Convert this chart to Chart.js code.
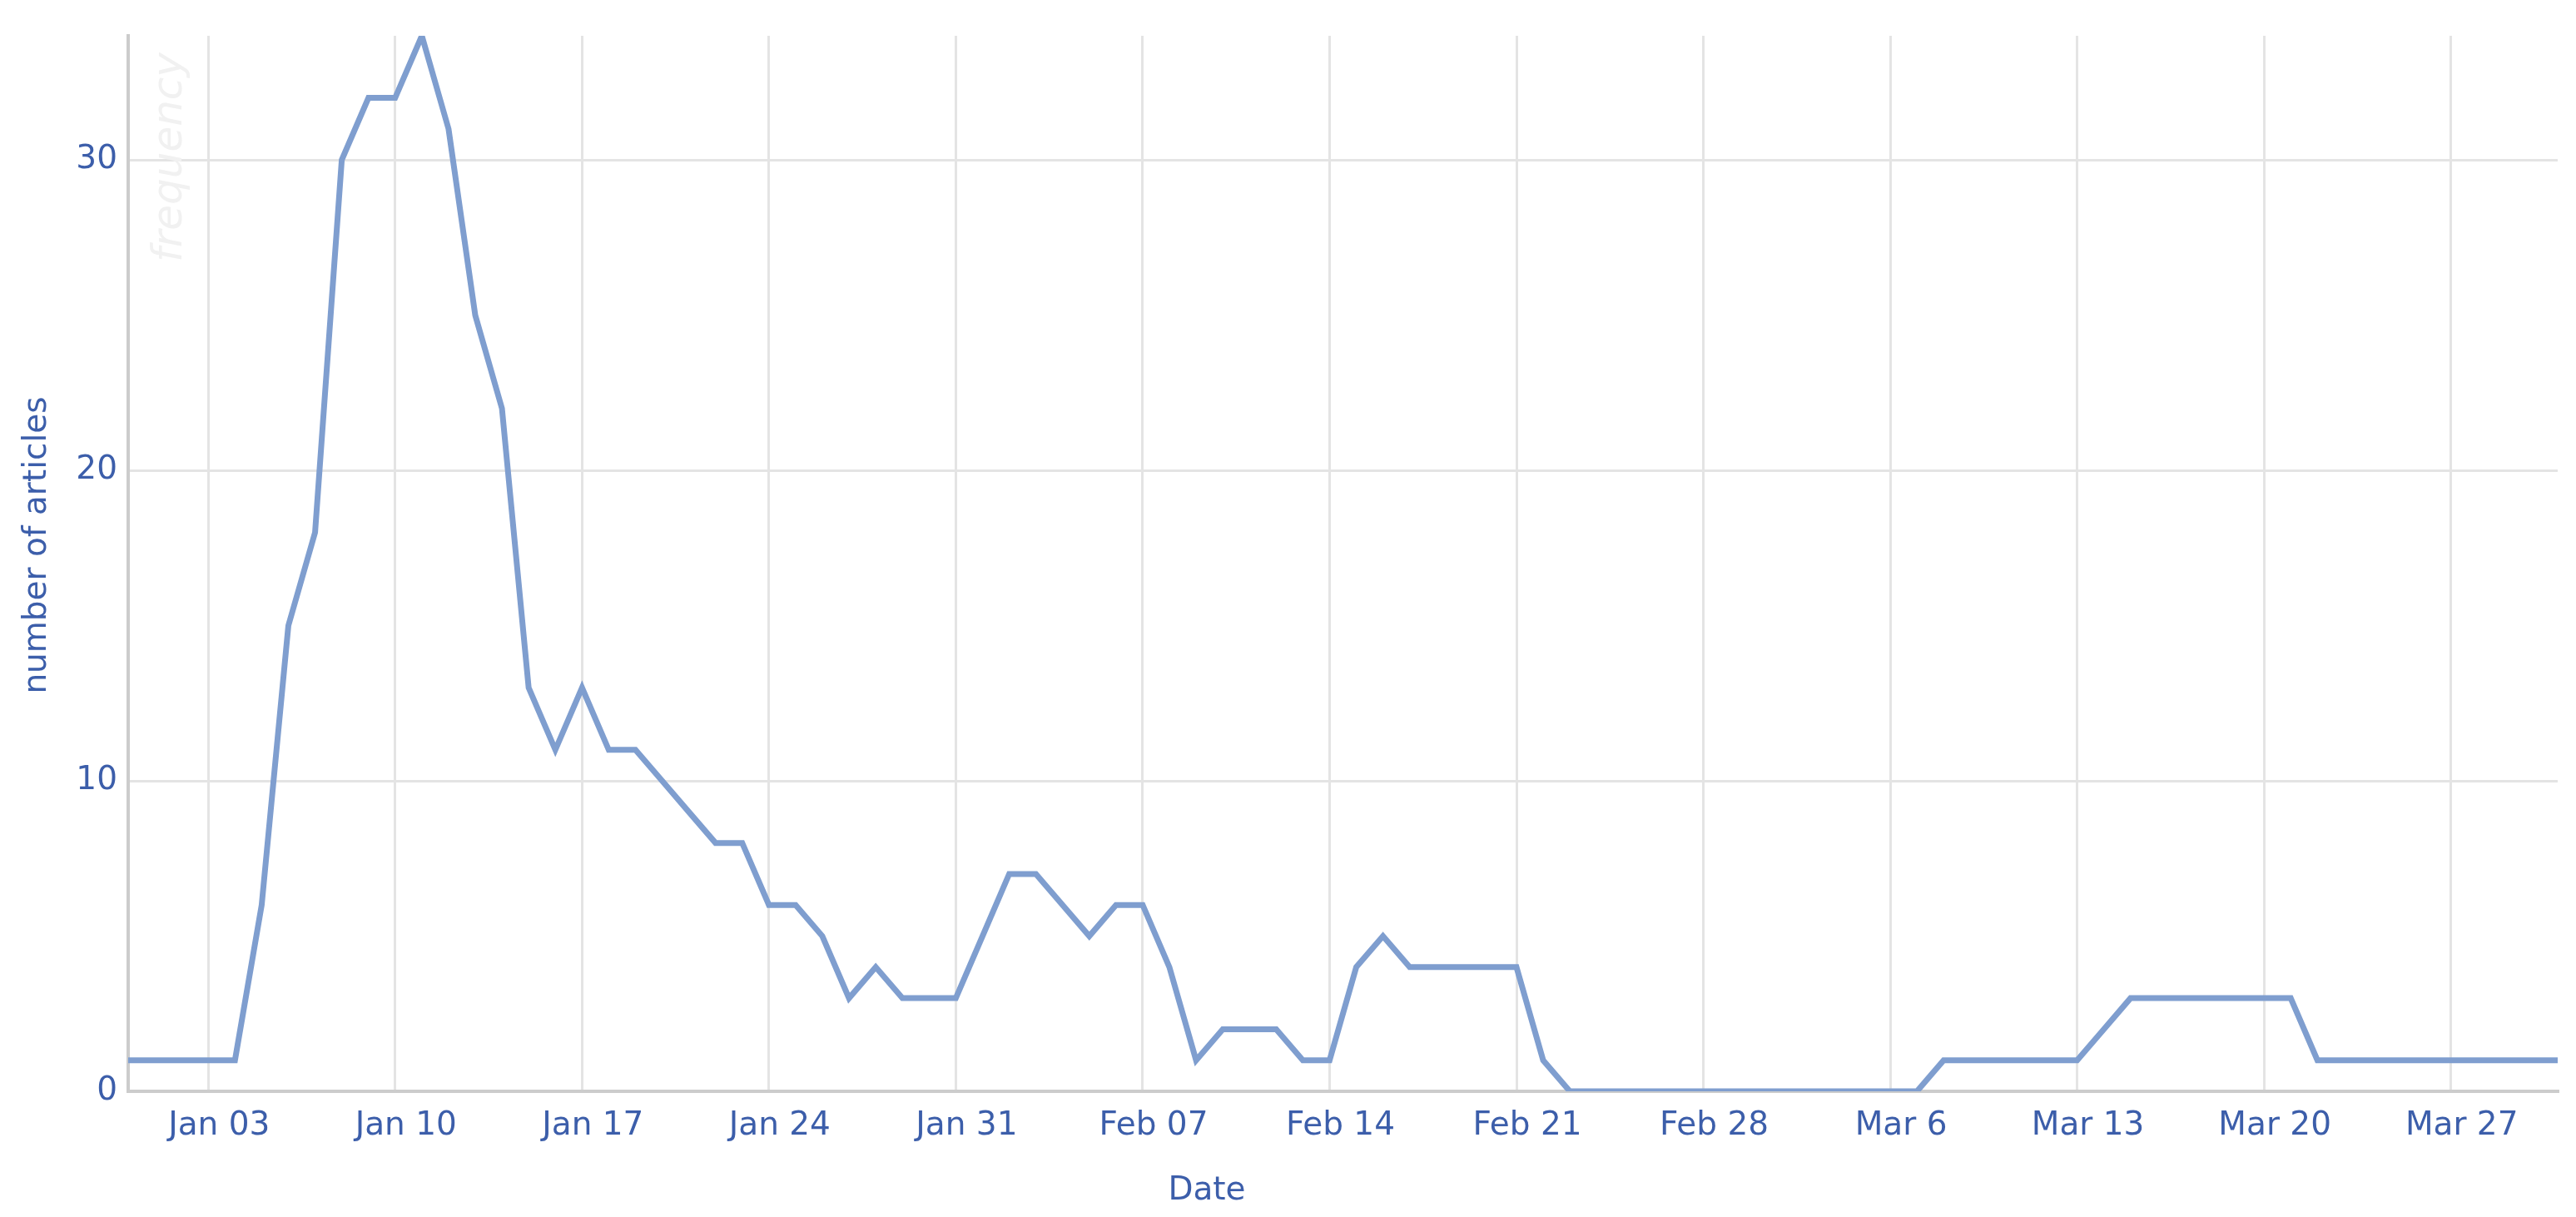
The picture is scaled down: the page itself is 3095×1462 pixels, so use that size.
<!DOCTYPE html>
<html lang="en">
<head>
    <meta charset="UTF-8">
    <title>Articles per day</title>
    <script src="https://cdn.jsdelivr.net/npm/chart.js"></script>
    <style>
        html, body {
            margin: 0;
            padding: 0;
            background-color: #ffffff;
        }

        .chart-box {
            position: relative;
            width: 3095px;
            height: 1462px;
        }
    </style>
</head>
<body>
    <div class="chart-box">
        <canvas id="articlesChart"></canvas>
    </div>

    <script>
        // number of articles per day, first day is Dec 31
        const firstDay = '2015-12-31';
        const counts = [
            1, 1, 1, 1, 1, 6, 15, 18, 30, 32, 32, 34, 31, 25, 22, 13, 11, 13, 11, 11,
            10, 9, 8, 8, 6, 6, 5, 3, 4, 3, 3, 3, 5, 7, 7, 6, 5, 6, 6, 4,
            1, 2, 2, 2, 1, 1, 4, 5, 4, 4, 4, 4, 4, 1, 0, 0, 0, 0, 0, 0,
            0, 0, 0, 0, 0, 0, 0, 0, 1, 1, 1, 1, 1, 1, 2, 3, 3, 3, 3, 3,
            3, 3, 1, 1, 1, 1, 1, 1, 1, 1, 1, 1
        ];

        const tickDates = [
            '2016-01-03', '2016-01-10', '2016-01-17', '2016-01-24', '2016-01-31',
            '2016-02-07', '2016-02-14', '2016-02-21', '2016-02-28', '2016-03-06',
            '2016-03-13', '2016-03-20', '2016-03-27'
        ];
        const tickLabels = [
            'Jan 03', 'Jan 10', 'Jan 17', 'Jan 24', 'Jan 31', 'Feb 07', 'Feb 14',
            'Feb 21', 'Feb 28', 'Mar 6', 'Mar 13', 'Mar 20', 'Mar 27'
        ];
        const yTicks = [0, 10, 20, 30];

        // one category per day
        const dates = counts.map((_, i) => {
            const d = new Date(firstDay + 'T00:00:00Z');
            d.setUTCDate(d.getUTCDate() + i);
            return d.toISOString().slice(0, 10);
        });

        const textColor = '#3c5eaa';
        const gridColor = '#e4e4e4';
        const axisColor = '#cccccc';

        // titles placed like the original figure + faint watermark
        const titlesPlugin = {
            id: 'titlesPlugin',
            beforeDatasetsDraw(chart) {
                const ctx = chart.ctx;
                const area = chart.chartArea;
                ctx.save();
                ctx.fillStyle = '#f1f1f1';
                ctx.font = 'italic 50px "DejaVu Sans"';
                ctx.textAlign = 'center';
                ctx.textBaseline = 'middle';
                ctx.translate(area.left + 51, area.top + 146);
                ctx.rotate(-Math.PI / 2);
                ctx.fillText('frequency', 0, 0);
                ctx.restore();
            },
            afterDraw(chart) {
                const ctx = chart.ctx;
                ctx.save();
                ctx.fillStyle = textColor;
                ctx.font = '39px "DejaVu Sans"';
                ctx.textAlign = 'center';
                ctx.textBaseline = 'middle';
                ctx.fillText('Date', 1450, 1431);
                ctx.translate(45, 655);
                ctx.rotate(-Math.PI / 2);
                ctx.fillText('number of articles', 0, 0);
                ctx.restore();
            }
        };

        Chart.defaults.font.family = '"DejaVu Sans", sans-serif';
        Chart.defaults.font.size = 39;
        Chart.defaults.color = textColor;

        const ctx = document.getElementById('articlesChart').getContext('2d');
        new Chart(ctx, {
            type: 'line',
            data: {
                labels: dates,
                datasets: [
                    {
                        label: 'articles',
                        data: counts,
                        borderColor: '#7f9ecf',
                        borderWidth: 7,
                        pointRadius: 0,
                        tension: 0,
                        fill: false,
                    },
                ],
            },
            options: {
                responsive: true,
                maintainAspectRatio: false,
                devicePixelRatio: 1,
                animation: false,
                layout: {
                    padding: { left: 0, right: 22, top: 43, bottom: 0 },
                },
                plugins: {
                    legend: { display: false },
                    tooltip: { enabled: false },
                },
                scales: {
                    x: {
                        type: 'category',
                        offset: false,
                        afterBuildTicks: (scale) => {
                            scale.ticks = tickDates.map((d) => ({ value: dates.indexOf(d) }));
                        },
                        afterFit: (scale) => {
                            scale.height = 151;
                        },
                        grid: {
                            color: gridColor,
                            lineWidth: 3,
                            drawTicks: false,
                        },
                        border: {
                            color: axisColor,
                            width: 4,
                        },
                        ticks: {
                            autoSkip: false,
                            maxRotation: 0,
                            padding: 18,
                            labelOffset: 13,
                            callback: (value, index) => tickLabels[index],
                        },
                    },
                    y: {
                        min: 0,
                        max: 34,
                        afterBuildTicks: (scale) => {
                            scale.ticks = yTicks.map((v) => ({ value: v }));
                        },
                        afterFit: (scale) => {
                            scale.width = 154;
                        },
                        grid: {
                            color: gridColor,
                            lineWidth: 3,
                            drawTicks: false,
                        },
                        border: {
                            color: axisColor,
                            width: 4,
                        },
                        ticks: {
                            padding: 13,
                        },
                    },
                },
            },
            plugins: [titlesPlugin],
        });
    </script>
</body>
</html>
